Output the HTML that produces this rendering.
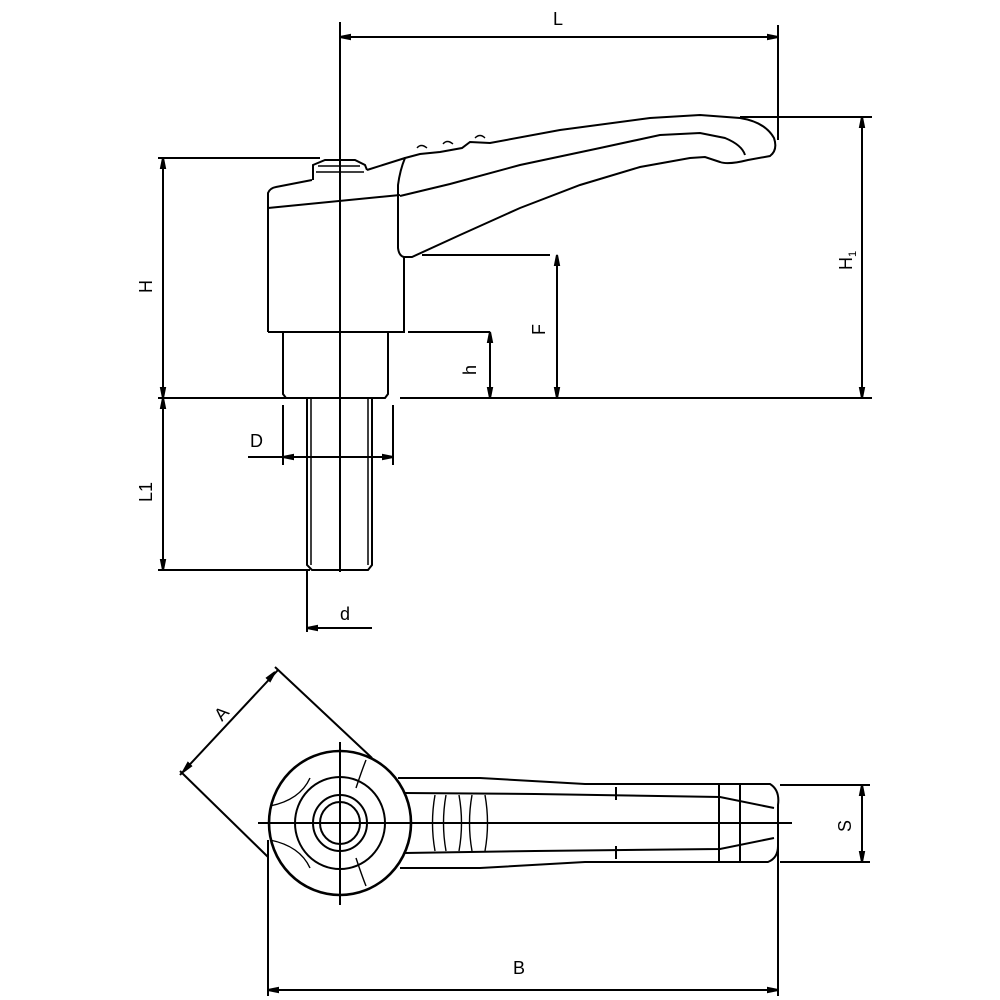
<!DOCTYPE html>
<html><head><style>body{margin:0;background:#fff}svg{display:block}text{font-family:"Liberation Sans",sans-serif;font-size:18px;fill:#000}</style></head>
<body>
<svg width="1000" height="1000" viewBox="0 0 1000 1000" fill="none" stroke="#000" stroke-width="2">
<!-- center axis -->
<line x1="340" y1="22" x2="340" y2="572"/>
<!-- L dim -->
<line x1="340" y1="37" x2="778" y2="37"/>
<line x1="778" y1="25" x2="778" y2="140"/>
<path d="M340 37l10-2v4zM778 37l-10-2v4z" fill="#000"/>
<text x="553" y="25" stroke="none">L</text>
<!-- H1 -->
<line x1="740" y1="117" x2="872" y2="117"/>
<line x1="400" y1="398" x2="872" y2="398"/>
<line x1="862" y1="117" x2="862" y2="398"/>
<path d="M862 117l-2 10h4zM862 398l-2-10h4z" fill="#000"/>
<text transform="translate(852,270) rotate(-90)" stroke="none">H<tspan font-size="11" dy="4">1</tspan></text>
<!-- H -->
<line x1="158" y1="158" x2="320" y2="158"/>
<line x1="158" y1="398" x2="286" y2="398"/>
<line x1="163" y1="158" x2="163" y2="398"/>
<path d="M163 158l-2 10h4zM163 398l-2-10h4z" fill="#000"/>
<text transform="translate(152,293) rotate(-90)" stroke="none">H</text>
<!-- body -->
<path d="M268 332V193Q270 188 276 187L312 180"/>
<path d="M367 170L405 158"/>
<path d="M268 208L400 195"/>
<path d="M268 332H404V257"/>
<path d="M313 180V165L325 160H355L365 165L367 170"/>
<path d="M318 166H360M316 172H364" stroke-width="1.4"/>
<!-- lever -->
<path d="M405 158Q400 170 398 185V248Q399 256 404 257H412L460 235L520 208L580 185L640 167L690 158L705 157L720 162Q728 165 748 160L770 156Q778 150 774 138Q765 122 740 118L700 115L650 118L560 130L490 143L470 142L462 148L440 152L420 154Z"/>
<path d="M400 196L450 184L520 165L600 148L660 135L700 133L725 138Q742 145 745 155"/>
<path d="M417 148q4-5 10 0M443 144q4-5 10 0M475 138q5-5 10 0" stroke-width="1.4"/>
<!-- neck -->
<path d="M283 332V394L286 398H385L388 394V332"/>
<!-- h -->
<line x1="408" y1="332" x2="490" y2="332"/>
<line x1="490" y1="332" x2="490" y2="398"/>
<path d="M490 332l-2 10h4zM490 398l-2-10h4z" fill="#000"/>
<text transform="translate(476,375) rotate(-90)" stroke="none">h</text>
<!-- F -->
<line x1="422" y1="255" x2="550" y2="255"/>
<line x1="557" y1="255" x2="557" y2="398"/>
<path d="M557 255l-2 10h4zM557 398l-2-10h4z" fill="#000"/>
<text transform="translate(545,335) rotate(-90)" stroke="none">F</text>
<!-- stud -->
<path d="M307 398V565L312 570H368L372 565V398"/>
<path d="M311 398V565M368 398V565" stroke-width="1.5"/>
<!-- D -->
<line x1="283" y1="405" x2="283" y2="465"/>
<line x1="393" y1="405" x2="393" y2="465"/>
<line x1="248" y1="457" x2="393" y2="457"/>
<path d="M283 457l10-2v4zM393 457l-10-2v4z" fill="#000"/>
<text x="250" y="447" stroke="none">D</text>
<!-- L1 -->
<line x1="158" y1="570" x2="310" y2="570"/>
<line x1="163" y1="398" x2="163" y2="570"/>
<path d="M163 398l-2 10h4zM163 570l-2-10h4z" fill="#000"/>
<text transform="translate(152,502) rotate(-90)" stroke="none">L1</text>
<!-- d -->
<line x1="307" y1="570" x2="307" y2="632"/>
<line x1="307" y1="628" x2="372" y2="628"/>
<path d="M307 628l10-2v4z" fill="#000"/>
<text x="340" y="620" stroke="none">d</text>

<!-- bottom view -->
<line x1="258" y1="823" x2="792" y2="823"/>
<line x1="340" y1="742" x2="340" y2="905"/>
<ellipse cx="340" cy="823" rx="71" ry="72" stroke-width="2.6"/>
<ellipse cx="340" cy="823" rx="45" ry="46"/>
<ellipse cx="340" cy="823" rx="27" ry="28"/>
<ellipse cx="340" cy="823" rx="20" ry="21"/>
<path d="M270 806Q300 800 310 778M270 840Q300 846 310 868M356 788Q362 770 366 760M356 858Q362 876 366 886" stroke-width="1.4"/>
<!-- lever -->
<path d="M398 778L480 778L585 784L720 784H770Q780 790 778 805V846Q778 858 768 862H720L585 862L480 868L400 868"/>
<path d="M405 793L535 794L720 797L774 808M405 853L535 851L720 849L774 838"/>
<line x1="719" y1="784" x2="719" y2="862"/>
<line x1="740" y1="784" x2="740" y2="862"/>
<line x1="616" y1="787" x2="616" y2="800"/>
<line x1="616" y1="846" x2="616" y2="859"/>
<path d="M435 795Q430 823 435 851M446 795Q441 823 446 851M459 795Q464 823 459 851M472 795Q467 823 472 851M485 795Q490 823 485 851" stroke-width="1.4"/>
<!-- S -->
<line x1="780" y1="785" x2="870" y2="785"/>
<line x1="780" y1="862" x2="870" y2="862"/>
<line x1="862" y1="785" x2="862" y2="862"/>
<path d="M862 785l-2 10h4zM862 862l-2-10h4z" fill="#000"/>
<text transform="translate(851,832) rotate(-90)" stroke="none">S</text>
<!-- B -->
<line x1="268" y1="840" x2="268" y2="996"/>
<line x1="778" y1="845" x2="778" y2="996"/>
<line x1="268" y1="990" x2="778" y2="990"/>
<path d="M268 990l10-2v4zM778 990l-10-2v4z" fill="#000"/>
<text x="513" y="974" stroke="none">B</text>
<!-- A -->
<line x1="180" y1="775" x2="278" y2="670"/>
<line x1="275" y1="667" x2="372" y2="758"/>
<line x1="180" y1="771" x2="268" y2="857"/>
<path d="M183 772l5-9 3 3zM275 672l-5 9-3-3z" fill="#000"/>
<text transform="translate(222,722) rotate(-48)" stroke="none">A</text>
</svg>
</body></html>
